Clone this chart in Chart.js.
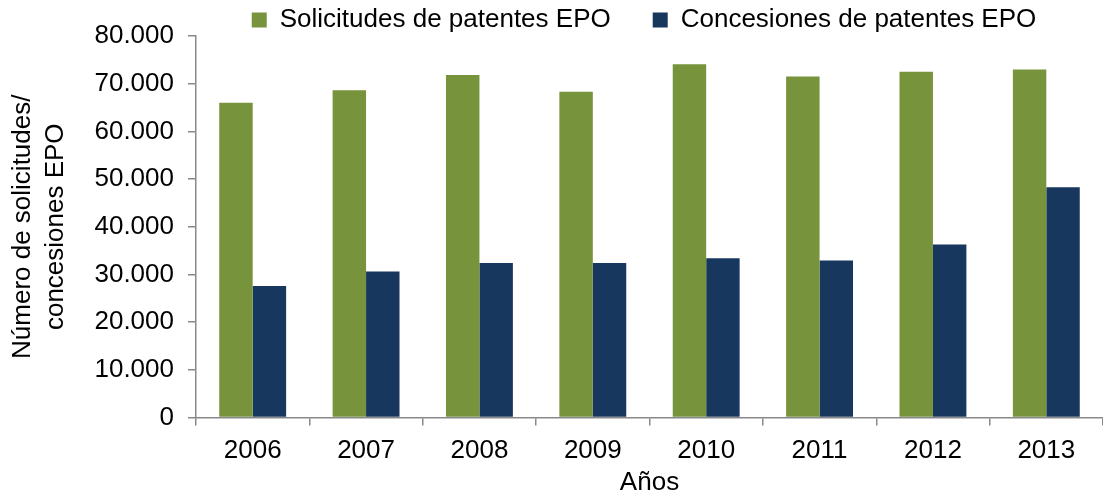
<!DOCTYPE html>
<html>
<head>
<meta charset="utf-8">
<script src="https://cdn.jsdelivr.net/npm/chart.js@4.4.1/dist/chart.umd.min.js"></script>
<style>
  html, body { margin: 0; padding: 0; background: #fff; }
  #wrap { width: 1103px; height: 497px; position: relative; }
</style>
</head>
<body>
<div id="wrap"><canvas id="chart"></canvas></div>
<script>
const years = ['2006', '2007', '2008', '2009', '2010', '2011', '2012', '2013'];
const solicitudes = [66000, 68600, 71800, 68300, 74100, 71500, 72500, 73000];
const concesiones = [27600, 30600, 32400, 32400, 33400, 32900, 36300, 48300];
const yTicks = [0, 10000, 20000, 30000, 40000, 50000, 60000, 70000, 80000];

const FONT = "'Liberation Sans', Arial, sans-serif";
const AXIS_GRAY = '#898989';

function formatThousands(v) {
  return String(v).replace(/\B(?=(\d{3})+(?!\d))/g, '.');
}

// nudge the legend so it sits centred over the plot like the original
// (only top/left move, bottom stays so the legend clip box still covers it)
const legendShift = {
  id: 'legendShift',
  afterLayout(chart) {
    const lg = chart.legend;
    if (!lg) return;
    lg.top -= 35;
    lg.left = 180;
  },
};

new Chart(document.getElementById('chart'), {
  type: 'bar',
  data: {
    labels: years,
    datasets: [
      {
        label: 'Solicitudes de patentes EPO',
        data: solicitudes,
        backgroundColor: '#77933C',
        categoryPercentage: 0.59,
        barPercentage: 1.0,
      },
      {
        label: 'Concesiones de patentes EPO',
        data: concesiones,
        backgroundColor: '#17375E',
        categoryPercentage: 0.59,
        barPercentage: 1.0,
      },
    ],
  },
  options: {
    responsive: true,
    maintainAspectRatio: false,
    animation: false,
    layout: { padding: { top: 0, right: -5, bottom: 0, left: 0 } },
    plugins: {
      legend: {
        position: 'top',
        maxHeight: 36,
        labels: {
          boxWidth: 15,
          boxHeight: 15,
          padding: 42,
          color: '#000',
          font: { family: FONT, size: 26 },
        },
      },
      tooltip: { enabled: false },
    },
    scales: {
      x: {
        afterFit: (scale) => { scale.height = 79.5; },
        grid: {
          display: true,
          drawOnChartArea: false,
          drawTicks: true,
          tickLength: 8,
          color: AXIS_GRAY,
          lineWidth: 1.5,
        },
        border: { display: true, color: AXIS_GRAY, width: 1.5 },
        ticks: {
          color: '#000',
          padding: 10,
          font: { family: FONT, size: 26 },
        },
        title: {
          display: true,
          text: 'Años',
          color: '#000',
          font: { family: FONT, size: 26, lineHeight: 1.0 },
          padding: { top: 0, bottom: 1 },
        },
      },
      y: {
        min: 0,
        max: 80000,
        afterFit: (scale) => { scale.width = 196; },
        afterBuildTicks: (scale) => {
          scale.ticks = yTicks.map((v) => ({ value: v }));
        },
        grid: {
          display: true,
          drawOnChartArea: false,
          drawTicks: true,
          tickLength: 8,
          color: AXIS_GRAY,
          lineWidth: 1.5,
        },
        border: { display: true, color: AXIS_GRAY, width: 1.5 },
        ticks: {
          color: '#000',
          padding: 14,
          font: { family: FONT, size: 26 },
          callback: (v) => formatThousands(v),
        },
        title: {
          display: true,
          text: ['Número de solicitudes/', 'concesiones EPO'],
          color: '#000',
          font: { family: FONT, size: 26, lineHeight: 1.25 },
          padding: { top: 7, bottom: 0 },
        },
      },
    },
  },
  plugins: [legendShift],
});
</script>
</body>
</html>
